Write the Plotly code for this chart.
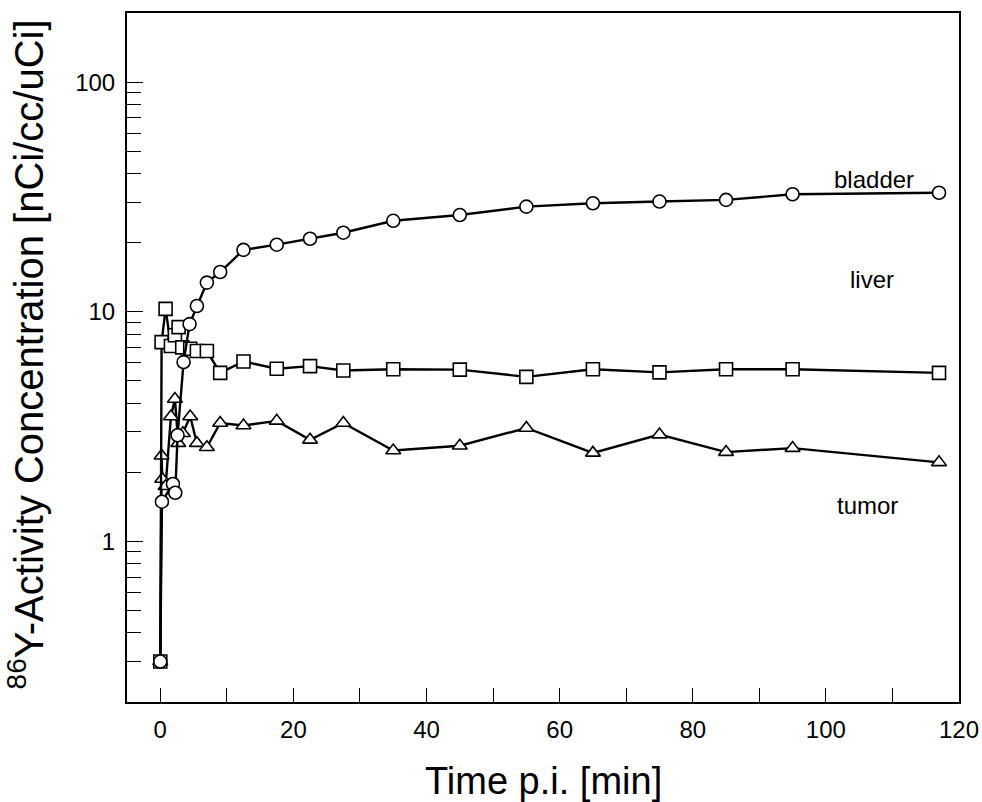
import math
import plotly.graph_objects as go

# ---- data ----
bladder_t = [0, 0.25, 1.9, 2.25, 2.6, 3.5, 4.4, 5.5, 7, 9, 12.5, 17.5, 22.5, 27.5, 35, 45, 55, 65, 75, 85, 95, 117]
bladder_v = [0.3, 1.49, 1.78, 1.63, 2.9, 6.04, 8.84, 10.6, 13.4, 14.9, 18.6, 19.6, 20.8, 22.1, 24.9, 26.4, 28.7, 29.7, 30.2, 30.7, 32.5, 33.0]

liver_t = [0, 0.2, 0.8, 1.6, 2.2, 2.75, 3.3, 4.5, 5.5, 7, 9, 12.5, 17.5, 22.5, 27.5, 35, 45, 55, 65, 75, 85, 95, 117]
liver_v = [0.3, 7.38, 10.3, 7.1, 7.9, 8.58, 7.0, 6.9, 6.75, 6.75, 5.42, 6.08, 5.65, 5.8, 5.55, 5.62, 5.6, 5.21, 5.62, 5.45, 5.62, 5.62, 5.42]

tumor_t = [0, 0.2, 0.3, 0.8, 1.6, 2.2, 2.7, 3.4, 4.5, 5.5, 7, 9, 12.5, 17.5, 22.5, 27.5, 35, 45, 55, 65, 75, 85, 95, 117]
tumor_v = [0.3, 2.36, 1.87, 1.74, 3.5, 4.17, 2.68, 2.96, 3.5, 2.68, 2.57, 3.28, 3.2, 3.35, 2.77, 3.28, 2.49, 2.61, 3.12, 2.43, 2.92, 2.45, 2.55, 2.21]

series_names = ["bladder", "liver", "tumor"]
label_x = [107.3, 107.0, 106.3]
label_y = [37.5, 13.8, 1.43]

x_tickvals = [0, 20, 40, 60, 80, 100, 120]
y_tickvals = [1, 10, 100]
y_ticktext = ["1", "10", "100"]

x_title = "Time p.i. [min]"
y_title = "<sup>86</sup>Y-Activity Concentration [nCi/cc/uCi]"

FONT = "Liberation Sans, Arial, sans-serif"

fig = go.Figure()

def add(t, v, symbol, name):
    fig.add_trace(go.Scatter(
        x=t, y=v, mode="lines+markers", name=name,
        line=dict(color="black", width=2.4),
        marker=dict(symbol=symbol, size=13, color="white",
                    line=dict(color="black", width=1.6)),
        showlegend=False,
    ))

add(tumor_t, tumor_v, "triangle-up", "tumor")
add(liver_t, liver_v, "square", "liver")
add(bladder_t, bladder_v, "circle", "bladder")

for name, lx, ly in zip(series_names, label_x, label_y):
    fig.add_annotation(x=lx, y=math.log10(ly), xref="x", yref="y", text=name,
                       showarrow=False, font=dict(family=FONT, size=24, color="black"))

# axis titles as annotations (paper coords relative to plot area)
fig.add_annotation(x=0.5, y=-0.115, xref="paper", yref="paper", text=x_title,
                   showarrow=False, xanchor="center", yanchor="middle",
                   font=dict(family=FONT, size=38, color="black"))
fig.add_annotation(x=-0.121, y=0.505, xref="paper", yref="paper", text=y_title,
                   showarrow=False, xanchor="center", yanchor="middle", textangle=-90,
                   font=dict(family=FONT, size=40, color="black"))

fig.update_layout(
    width=982, height=802,
    margin=dict(l=127, r=23, t=13, b=100, autoexpand=False),
    paper_bgcolor="white", plot_bgcolor="white",
    font=dict(family=FONT, color="black"),
)

fig.update_xaxes(
    range=[-5, 120], tickvals=x_tickvals, automargin=False,
    ticks="inside", ticklen=14, tickwidth=1, tickcolor="black",
    minor=dict(dtick=10, ticks="inside", ticklen=14, tickwidth=1, tickcolor="black", showgrid=False),
    showline=True, linecolor="black", linewidth=2, mirror=True,
    showgrid=False, zeroline=False,
    tickfont=dict(family=FONT, size=24, color="black"),
    ticklabelstandoff=5, ticklabeloverflow="allow",
)

fig.update_yaxes(
    type="log", range=[-0.69897, 2.30103], automargin=False,
    tickvals=y_tickvals, ticktext=y_ticktext,
    ticks="inside", ticklen=16, tickwidth=1, tickcolor="black",
    minor=dict(dtick="D1", ticks="inside", ticklen=14, tickwidth=1, tickcolor="black", showgrid=False),
    showline=True, linecolor="black", linewidth=2, mirror=True,
    showgrid=False, zeroline=False,
    tickfont=dict(family=FONT, size=24, color="black"),
    ticklabelstandoff=5, ticklabeloverflow="allow",
)

# remove the default page margin and scrollbars so the figure sits at the window's corner
fig.write_html(
    "out.html",
    config={"displayModeBar": False},
    post_script="document.body.style.margin='0px';document.body.style.overflow='hidden';"
                "document.documentElement.style.overflow='hidden';",
)
